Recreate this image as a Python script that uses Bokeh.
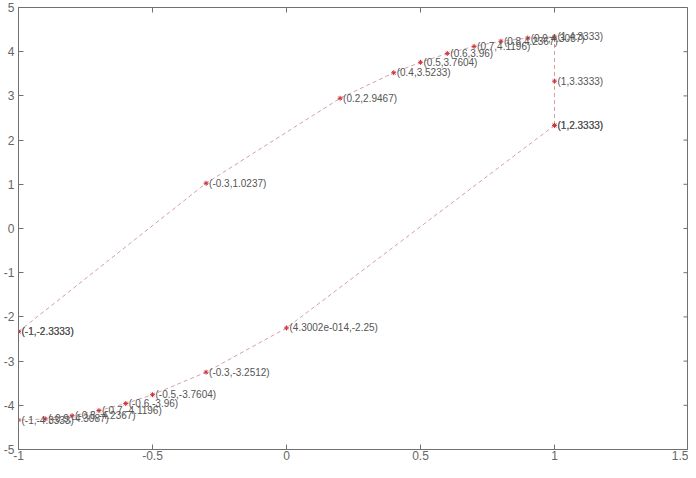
import math
from bokeh.plotting import figure
from bokeh.models import LinearAxis, FixedTicker, ColumnDataSource, Range1d
from bokeh.core.properties import value
from bokeh.embed import file_html
from bokeh.resources import INLINE

# Upper branch of the loop
upper_x = [-1, -0.3, 0.2, 0.4, 0.5, 0.6, 0.7, 0.8, 0.9, 1, 1, 1]
upper_y = [-2.3333, 1.0237, 2.9467, 3.5233, 3.7604, 3.96, 4.1196, 4.2367, 4.3087, 4.3333, 3.3333, 2.3333]
upper_labels = ["(-1,-2.3333)", "(-0.3,1.0237)", "(0.2,2.9467)", "(0.4,3.5233)", "(0.5,3.7604)",
                "(0.6,3.96)", "(0.7,4.1196)", "(0.8,4.2367)", "(0.9,4.3087)", "(1,4.3333)",
                "(1,3.3333)", "(1,2.3333)"]

# Lower branch of the loop
lower_x = [1, 4.3002e-14, -0.3, -0.5, -0.6, -0.7, -0.8, -0.9, -1, -1]
lower_y = [2.3333, -2.25, -3.2512, -3.7604, -3.96, -4.1196, -4.2367, -4.3087, -4.3333, -2.3333]
lower_labels = ["(1,2.3333)", "(4.3002e-014,-2.25)", "(-0.3,-3.2512)", "(-0.5,-3.7604)", "(-0.6,-3.96)",
                "(-0.7,-4.1196)", "(-0.8,-4.2367)", "(-0.9,-4.3087)", "(-1,-4.3333)", "(-1,-2.3333)"]

x_min, x_max = -1, 1.5
y_min, y_max = -5, 5
x_ticks = [-1, -0.5, 0, 0.5, 1, 1.5]
x_tick_labels = ["-1", "-0.5", "0", "0.5", "1", "1.5"]
y_ticks = [-5, -4, -3, -2, -1, 0, 1, 2, 3, 4, 5]
y_tick_labels = ["-5", "-4", "-3", "-2", "-1", "0", "1", "2", "3", "4", "5"]

FONT = "Liberation Sans"
AXIS_COLOR = "#707070"
LABEL_COLOR = "#666666"

p = figure(width=688, height=462, output_backend="svg", toolbar_location=None,
           x_range=Range1d(x_min, x_max), y_range=Range1d(y_min, y_max),
           x_axis_location=None, y_axis_location=None,
           min_border_left=17, min_border_right=0, min_border_top=7, min_border_bottom=0)
p.grid.visible = False
p.outline_line_color = AXIS_COLOR
p.outline_line_width = 1
p.background_fill_color = "white"
p.border_fill_color = "white"


def make_axis(ticks, labels, standoff):
    ax = LinearAxis(ticker=FixedTicker(ticks=ticks))
    ax.axis_line_color = AXIS_COLOR
    ax.major_tick_line_color = AXIS_COLOR
    ax.major_tick_in = 5
    ax.major_tick_out = 0
    ax.minor_tick_line_color = None
    ax.major_label_overrides = {t: l for t, l in zip(ticks, labels)}
    ax.major_label_text_font = FONT
    ax.major_label_text_color = LABEL_COLOR
    ax.major_label_text_font_size = "12px"
    ax.major_label_standoff = standoff
    return ax


p.add_layout(make_axis(x_ticks, x_tick_labels, 1), "below")
p.add_layout(make_axis(y_ticks, y_tick_labels, 4), "left")

# tick marks on the top and right edges of the box (clipped to the frame, so half shows inside)
p.scatter(x=x_ticks, y=[y_max] * len(x_ticks), marker="dash", angle=math.pi / 2, size=10,
          line_color=AXIS_COLOR, line_width=1)
p.scatter(x=[x_max] * len(y_ticks), y=y_ticks, marker="dash", size=10,
          line_color=AXIS_COLOR, line_width=1)

LINE_COLOR = "#d4a0a0"
for xs, ys, labs in [(upper_x, upper_y, upper_labels), (lower_x, lower_y, lower_labels)]:
    src = ColumnDataSource(dict(x=xs, y=ys, t=labs))
    p.line("x", "y", source=src, line_color=LINE_COLOR, line_width=1, line_dash="4 3")
    p.scatter("x", "y", source=src, marker="asterisk", size=5, line_color="#cc3344", line_width=1)
    p.text("x", "y", text="t", source=src, text_font=value(FONT), text_font_size="10px",
           text_color="#555555", text_baseline="middle", text_align="left", x_offset=3)

open("out.html", "w").write(file_html(p, INLINE))
